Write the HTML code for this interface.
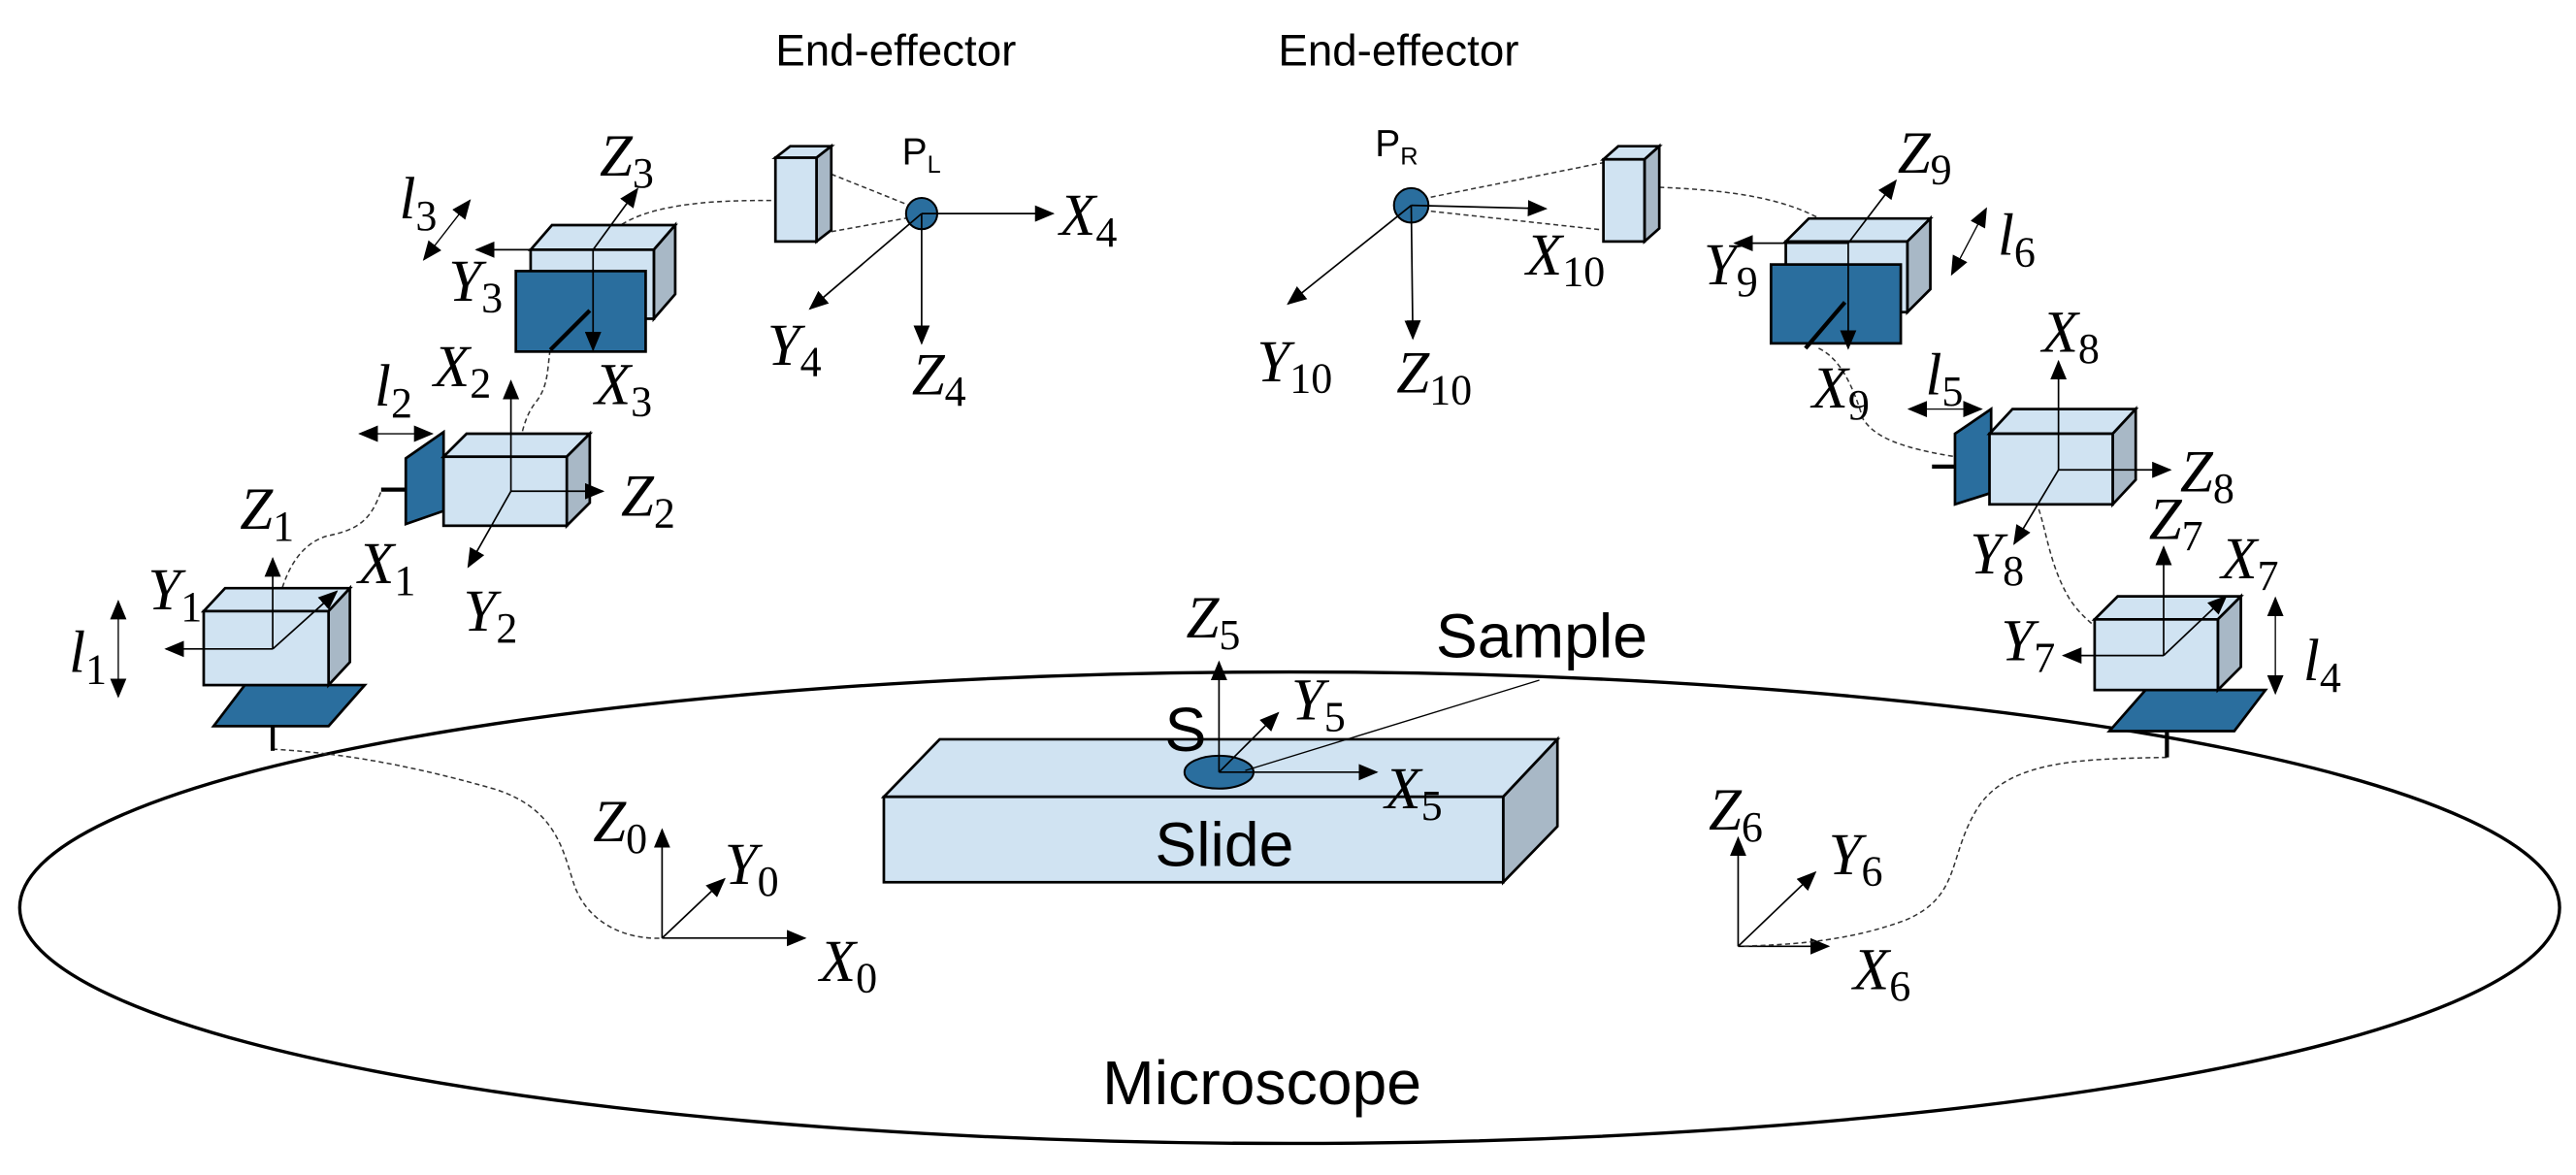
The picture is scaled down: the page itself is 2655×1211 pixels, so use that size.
<!DOCTYPE html>
<html><head><meta charset="utf-8"><style>
html,body{margin:0;padding:0;background:#fff;}
svg{display:block;}
.m{font-family:"Liberation Serif",serif;font-style:italic;font-size:36px;fill:#000;}
.s{font-style:normal;font-size:26px;}
.t{font-family:"Liberation Sans",sans-serif;fill:#000;}
.lb{fill:#d0e3f2;stroke:#000;stroke-width:1.6;}
.sd{fill:#a8b8c6;stroke:#000;stroke-width:1.6;}
.dk{fill:#2a6e9e;stroke:#000;stroke-width:1.6;}
.ax{stroke:#000;stroke-width:1;fill:none;marker-end:url(#ah);}
.dd{stroke:#000;stroke-width:0.8;fill:none;marker-end:url(#ah);marker-start:url(#ahs);}
.ds{stroke:#333;stroke-width:0.9;fill:none;stroke-dasharray:3 2;}
</style></head><body>
<svg width="2655" height="1211" viewBox="0 0 1568 715.2" preserveAspectRatio="none" xmlns="http://www.w3.org/2000/svg">
<defs>
<marker id="ah" markerUnits="userSpaceOnUse" markerWidth="12" markerHeight="10" refX="11" refY="5" orient="auto"><path d="M0,0 L12,5 L0,10 z" fill="#000"/></marker>
<marker id="ahs" markerUnits="userSpaceOnUse" markerWidth="12" markerHeight="10" refX="1" refY="5" orient="auto"><path d="M12,0 L0,5 L12,10 z" fill="#000"/></marker>
</defs>
<rect width="1568" height="716" fill="#fff"/>
<ellipse cx="785" cy="552.5" rx="773" ry="143.5" fill="none" stroke="#000" stroke-width="2"/>
<text class="t" x="671" y="672" font-size="38">Microscope</text>

<polygon class="lb" points="538,485 572,450 948,450 915,485"/>
<polygon class="sd" points="915,485 948,450 948,503 915,537"/>
<rect class="lb" x="538" y="485" width="377" height="52"/>
<text class="t" x="703" y="527" font-size="38">Slide</text>
<ellipse cx="742" cy="470" rx="21" ry="10" fill="#2a6e9e" stroke="#000" stroke-width="1.2"/>
<line x1="742" y1="470" x2="742" y2="403" class="ax"/>
<line x1="742" y1="470" x2="778" y2="434" class="ax"/>
<line x1="742" y1="470" x2="838" y2="470" class="ax"/>
<line x1="758" y1="469" x2="937" y2="414" stroke="#000" stroke-width="0.8"/>
<text class="m" x="722" y="388">Z<tspan class="s" dy="7">5</tspan></text>
<text class="t" x="709" y="457" font-size="38">S</text>
<text class="m" x="786" y="438">Y<tspan class="s" dy="7">5</tspan></text>
<text class="m" x="843" y="492">X<tspan class="s" dy="7">5</tspan></text>
<text class="t" x="874" y="400" font-size="38">Sample</text>

<line x1="403" y1="571" x2="403" y2="505" class="ax"/>
<line x1="403" y1="571" x2="441" y2="535" class="ax"/>
<line x1="403" y1="571" x2="490" y2="571" class="ax"/>
<text class="m" x="361" y="512">Z<tspan class="s" dy="7">0</tspan></text>
<text class="m" x="441" y="538">Y<tspan class="s" dy="7">0</tspan></text>
<text class="m" x="499" y="597">X<tspan class="s" dy="7">0</tspan></text>
<line x1="1058" y1="576" x2="1058" y2="510" class="ax"/>
<line x1="1058" y1="576" x2="1105" y2="531" class="ax"/>
<line x1="1058" y1="576" x2="1113" y2="576" class="ax"/>
<text class="m" x="1040" y="505">Z<tspan class="s" dy="7">6</tspan></text>
<text class="m" x="1113" y="532">Y<tspan class="s" dy="7">6</tspan></text>
<text class="m" x="1128" y="602">X<tspan class="s" dy="7">6</tspan></text>

<path class="ds" d="M166,456 C200,458 240,463 300,480 C340,492 343,520 350,540 C360,565 385,572 403,571"/>
<path class="ds" d="M1319,461 C1270,462 1225,462 1205,490 C1185,520 1195,545 1160,560 C1120,575 1080,575 1060,576"/>
<path class="ds" d="M166,392 C168,360 177,332 200,326 C220,322 226,315 232,299"/>
<path class="ds" d="M313,292 C316,270 318,255 326,245 C334,235 333,225 335,212"/>
<path class="ds" d="M367,146 C378,134 395,126 433,123 C450,122 460,122 471,122"/>
<path class="ds" d="M506,106 L556,126 M506,141 L556,132"/>
<path class="ds" d="M866,121 L976,99 M866,128 L976,140"/>
<path class="ds" d="M1010,114 C1060,116 1100,122 1126,146"/>
<path class="ds" d="M1107,212 C1120,218 1128,235 1134,255 C1145,272 1175,278 1258,286"/>
<path class="ds" d="M1241,310 C1246,325 1248,345 1260,365 C1270,380 1290,395 1319,399"/>

<polygon class="dk" points="130,442 149,417 222,417 200,442"/>
<line x1="166" y1="442" x2="166" y2="457" stroke="#000" stroke-width="2.5"/>
<polygon class="lb" points="124,372 137,358 213,358 200,372"/>
<polygon class="sd" points="200,372 213,358 213,403 200,417"/>
<rect class="lb" x="124" y="372" width="76" height="45"/>
<line x1="166" y1="395" x2="166" y2="340" class="ax"/>
<line x1="166" y1="395" x2="101" y2="395" class="ax"/>
<line x1="166" y1="395" x2="205" y2="360" class="ax"/>
<line x1="72" y1="366" x2="72" y2="424" class="dd"/>
<text class="m" x="146" y="322">Z<tspan class="s" dy="7">1</tspan></text>
<text class="m" x="90" y="371">Y<tspan class="s" dy="7">1</tspan></text>
<text class="m" x="218" y="355">X<tspan class="s" dy="7">1</tspan></text>
<text class="m" x="42" y="409">l<tspan class="s" dy="7">1</tspan></text>
<polygon class="dk" points="247,279 270,263 270,311 247,319"/>
<line x1="232" y1="298" x2="247" y2="298" stroke="#000" stroke-width="2.5"/>
<polygon class="lb" points="270,278 284,264 359,264 345,278"/>
<polygon class="sd" points="345,278 359,264 359,306 345,320"/>
<rect class="lb" x="270" y="278" width="75" height="42"/>
<line x1="311" y1="299" x2="311" y2="232" class="ax"/>
<line x1="311" y1="299" x2="367" y2="299" class="ax"/>
<line x1="311" y1="299" x2="285" y2="345" class="ax"/>
<line x1="219" y1="264" x2="263" y2="264" class="dd"/>
<text class="m" x="264" y="235">X<tspan class="s" dy="7">2</tspan></text>
<text class="m" x="228" y="247">l<tspan class="s" dy="7">2</tspan></text>
<text class="m" x="378" y="314">Z<tspan class="s" dy="7">2</tspan></text>
<text class="m" x="282" y="384">Y<tspan class="s" dy="7">2</tspan></text>
<polygon class="lb" points="323,152 336,137 411,137 398,152"/>
<polygon class="sd" points="398,152 411,137 411,179 398,194"/>
<rect class="lb" x="323" y="152" width="75" height="42"/>
<rect class="dk" x="314" y="165" width="79" height="49"/>
<line x1="359" y1="189" x2="335" y2="213" stroke="#000" stroke-width="2.5"/>
<line x1="361" y1="152" x2="361" y2="213" class="ax"/>
<line x1="361" y1="152" x2="388" y2="115" class="ax"/>
<line x1="361" y1="152" x2="290" y2="152" class="ax"/>
<line x1="258" y1="158" x2="286" y2="122" class="dd"/>
<text class="m" x="365" y="107">Z<tspan class="s" dy="7">3</tspan></text>
<text class="m" x="273" y="183">Y<tspan class="s" dy="7">3</tspan></text>
<text class="m" x="362" y="246">X<tspan class="s" dy="7">3</tspan></text>
<text class="m" x="243" y="133">l<tspan class="s" dy="7">3</tspan></text>
<polygon class="lb" points="472,96 481,89 506,89 497,96"/>
<polygon class="sd" points="497,96 506,89 506,140 497,147"/>
<rect class="lb" x="472" y="96" width="25" height="51"/>
<circle cx="561" cy="130" r="9.5" fill="#2a6e9e" stroke="#000" stroke-width="1.2"/>
<line x1="561" y1="130" x2="641" y2="130" class="ax"/>
<line x1="561" y1="130" x2="493" y2="188" class="ax"/>
<line x1="561" y1="130" x2="561" y2="209" class="ax"/>
<text class="t" x="549" y="100" font-size="23">P<tspan font-size="15" dy="5">L</tspan></text>
<text class="m" x="645" y="143">X<tspan class="s" dy="7">4</tspan></text>
<text class="m" x="467" y="222">Y<tspan class="s" dy="7">4</tspan></text>
<text class="m" x="555" y="240">Z<tspan class="s" dy="7">4</tspan></text>
<text class="t" x="472" y="40" font-size="27">End-effector</text>

<text class="t" x="778" y="40" font-size="27">End-effector</text>
<circle cx="859" cy="125" r="10.5" fill="#2a6e9e" stroke="#000" stroke-width="1.2"/>
<line x1="859" y1="125" x2="941" y2="127" class="ax"/>
<line x1="859" y1="125" x2="784" y2="185" class="ax"/>
<line x1="859" y1="125" x2="860" y2="206" class="ax"/>
<text class="t" x="837" y="95" font-size="23">P<tspan font-size="15" dy="5">R</tspan></text>
<text class="m" x="929" y="167">X<tspan class="s" dy="7">10</tspan></text>
<text class="m" x="765" y="232">Y<tspan class="s" dy="7">10</tspan></text>
<text class="m" x="850" y="239">Z<tspan class="s" dy="7">10</tspan></text>
<polygon class="lb" points="976,97 985,89 1010,89 1001,97"/>
<polygon class="sd" points="1001,97 1010,89 1010,139 1001,147"/>
<rect class="lb" x="976" y="97" width="25" height="50"/>
<polygon class="lb" points="1087,147 1101,133 1175,133 1161,147"/>
<polygon class="sd" points="1161,147 1175,133 1175,176 1161,190"/>
<rect class="lb" x="1087" y="147" width="74" height="43"/>
<rect class="dk" x="1078" y="161" width="79" height="48"/>
<line x1="1123" y1="184" x2="1099" y2="212" stroke="#000" stroke-width="2.5"/>
<line x1="1125" y1="148" x2="1125" y2="212" class="ax"/>
<line x1="1125" y1="148" x2="1154" y2="110" class="ax"/>
<line x1="1125" y1="148" x2="1056" y2="148" class="ax"/>
<line x1="1188" y1="167" x2="1209" y2="127" class="dd"/>
<text class="m" x="1155" y="105">Z<tspan class="s" dy="7">9</tspan></text>
<text class="m" x="1216" y="155">l<tspan class="s" dy="7">6</tspan></text>
<text class="m" x="1037" y="173">Y<tspan class="s" dy="7">9</tspan></text>
<text class="m" x="1103" y="248">X<tspan class="s" dy="7">9</tspan></text>
<polygon class="dk" points="1190,264 1212,249 1212,300 1190,307"/>
<line x1="1176" y1="284" x2="1190" y2="284" stroke="#000" stroke-width="2.5"/>
<polygon class="lb" points="1211,264 1225,249 1300,249 1286,264"/>
<polygon class="sd" points="1286,264 1300,249 1300,292 1286,307"/>
<rect class="lb" x="1211" y="264" width="75" height="43"/>
<line x1="1253" y1="286" x2="1253" y2="220" class="ax"/>
<line x1="1253" y1="286" x2="1321" y2="286" class="ax"/>
<line x1="1253" y1="286" x2="1226" y2="331" class="ax"/>
<line x1="1162" y1="249" x2="1206" y2="249" class="dd"/>
<text class="m" x="1243" y="214">X<tspan class="s" dy="7">8</tspan></text>
<text class="m" x="1172" y="240">l<tspan class="s" dy="7">5</tspan></text>
<text class="m" x="1327" y="299">Z<tspan class="s" dy="7">8</tspan></text>
<text class="m" x="1199" y="349">Y<tspan class="s" dy="7">8</tspan></text>
<polygon class="dk" points="1284,445 1306,420 1379,420 1360,445"/>
<line x1="1319" y1="445" x2="1319" y2="461" stroke="#000" stroke-width="2.5"/>
<polygon class="lb" points="1275,377 1289,363 1364,363 1350,377"/>
<polygon class="sd" points="1350,377 1364,363 1364,406 1350,420"/>
<rect class="lb" x="1275" y="377" width="75" height="43"/>
<line x1="1317" y1="399" x2="1317" y2="333" class="ax"/>
<line x1="1317" y1="399" x2="1256" y2="399" class="ax"/>
<line x1="1317" y1="399" x2="1355" y2="363" class="ax"/>
<line x1="1385" y1="364" x2="1385" y2="422" class="dd"/>
<text class="m" x="1308" y="328">Z<tspan class="s" dy="7">7</tspan></text>
<text class="m" x="1352" y="352">X<tspan class="s" dy="7">7</tspan></text>
<text class="m" x="1218" y="402">Y<tspan class="s" dy="7">7</tspan></text>
<text class="m" x="1402" y="414">l<tspan class="s" dy="7">4</tspan></text>
</svg>
</body></html>
